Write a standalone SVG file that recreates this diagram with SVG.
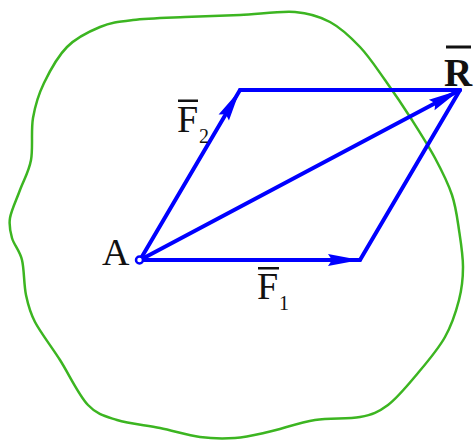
<svg xmlns="http://www.w3.org/2000/svg" width="475" height="440" viewBox="0 0 475 440">
<style>
.body{fill:none;stroke:#3cb521;stroke-width:2.5}
.vec{fill:none;stroke:#0000ff;stroke-width:4;stroke-linecap:round;stroke-linejoin:round}
.lbl{font-family:"Liberation Serif","Times New Roman",serif;fill:#111}
.bar{fill:#111}
</style>
<defs>
<marker id="ah" markerUnits="userSpaceOnUse" viewBox="-33 -7 34 14" refX="0" refY="0" markerWidth="34" markerHeight="14" orient="auto">
<path d="M0,0 L-32,-6 L-28,0 L-32,6 Z" fill="#0000ff"/>
</marker>
</defs>
<g id="body">
<path class="body" d="M240,15 C258.3,14.2 280,10.8 295,12 C310,13.2 319.2,16.2 330,22 C340.8,27.8 350.8,37.3 360,47 C369.2,56.7 376.3,67.8 385,80 C393.7,92.2 403.7,107 412,120 C420.3,133 428.3,145.5 435,158 C441.7,170.5 448,183 452,195 C456,207 457.2,218 459,230 C460.8,242 463,255.3 463,267 C463,278.7 462,288.3 459,300 C456,311.7 451.8,324.8 445,337 C438.2,349.2 427.5,361.7 418,373 C408.5,384.3 397.7,397.7 388,405 C378.3,412.3 372.2,414.5 360,417 C347.8,419.5 330.3,417.5 315,420 C299.7,422.5 281.3,429 268,432 C254.7,435 246.3,437.2 235,438 C223.7,438.8 212.5,438.7 200,437 C187.5,435.3 173.8,430.8 160,428 C146.2,425.2 129,423.8 117,420 C105,416.2 97.5,415 88,405 C78.5,395 68.8,373.8 60,360 C51.2,346.2 40.7,332.8 35,322 C29.3,311.2 28.2,305.3 26,295 C23.8,284.7 24.3,269.5 22,260 C19.7,250.5 14,245 12,238 C10,231 8.7,226 10,218 C11.3,210 16.5,199.7 20,190 C23.5,180.3 28.8,172 31,160 C33.2,148 30.8,130.8 33,118 C35.2,105.2 38.3,94.8 44,83 C49.7,71.2 57.7,56.3 67,47 C76.3,37.7 89,31.5 100,27 C111,22.5 118.8,21.7 133,20 C147.2,18.3 167.2,17.8 185,17 C202.8,16.2 222.2,15.8 240,15 Z"/>
</g>
<g id="connectors">
<line class="vec" x1="240" y1="90" x2="460" y2="90"/>
<line class="vec" x1="360" y1="260" x2="460" y2="90"/>
<line class="vec" x1="140" y1="260" x2="360" y2="260" marker-end="url(#ah)"/>
<line class="vec" x1="140" y1="260" x2="240" y2="90" marker-end="url(#ah)"/>
<line class="vec" x1="140" y1="260" x2="460" y2="90" marker-end="url(#ah)"/>
</g>
<g id="A">
<circle cx="139.5" cy="260" r="3.5" fill="#fff" stroke="#0000ff" stroke-width="2.5"/>
<text class="lbl" x="102" y="265" font-size="38">A</text>
</g>
<g id="F2">
<rect class="bar" x="178" y="99.5" width="20" height="2.5"/>
<text class="lbl" x="177" y="132" font-size="38">F</text>
<text class="lbl" x="199" y="143" font-size="20">2</text>
</g>
<g id="F1">
<rect class="bar" x="258" y="267" width="21" height="2.5"/>
<text class="lbl" x="257" y="299" font-size="38">F</text>
<text class="lbl" x="279" y="310" font-size="20">1</text>
</g>
<g id="R">
<rect class="bar" x="446" y="45.5" width="25" height="3"/>
<text class="lbl" x="444" y="86" font-size="39" font-weight="bold">R</text>
</g>
</svg>
